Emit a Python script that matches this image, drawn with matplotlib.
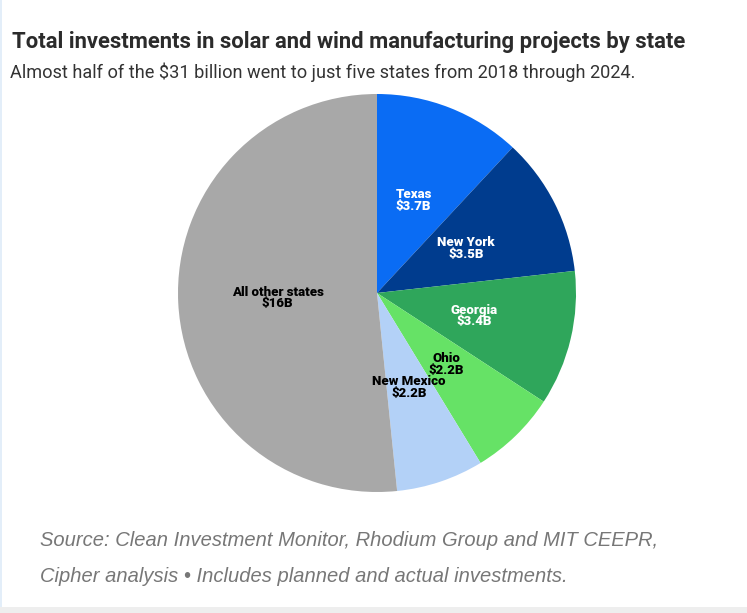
import matplotlib
matplotlib.use("Agg")
import matplotlib.pyplot as plt
import numpy as np

# data (billions of dollars)
states = ["Texas", "New York", "Georgia", "Ohio", "New Mexico", "All other states"]
values = [3.7, 3.5, 3.4, 2.2, 2.2, 16]
value_labels = ["$3.7B", "$3.5B", "$3.4B", "$2.2B", "$2.2B", "$16B"]
colors = ["#0a6cf4", "#003c8e", "#2fa65b", "#66e266", "#b3d1f7", "#a8a8a8"]
text_colors = ["white", "white", "white", "black", "black", "black"]

fig = plt.figure(figsize=(7.47, 6.13), dpi=100)
fig.patch.set_facecolor("white")

# thin page border on the left and grey band at the bottom, as in the screenshot
fig.add_artist(plt.Rectangle((0, 0), 2 / 747, 1, transform=fig.transFigure,
                             color="#e3eef9", lw=0))
fig.add_artist(plt.Rectangle((0, 0), 1, 6 / 613, transform=fig.transFigure,
                             color="#eeeeee", lw=0))

# pie axes, placed so the circle sits where it does in the reference
ax = fig.add_axes([(377 - 199) / 747, (613 - 492) / 613, 398 / 747, 398 / 613])
wedges, _ = ax.pie(values, colors=colors, startangle=90, counterclock=False,
                   radius=1, wedgeprops=dict(linewidth=0))
ax.set_xlim(-1, 1)
ax.set_ylim(-1, 1)
ax.set_aspect("equal")
ax.axis("off")

# labels inside slices, at half the radius
total = sum(values)
start = 90.0
for name, lab, v, tc in zip(states, value_labels, values, text_colors):
    mid = start - v / total * 360 / 2
    start -= v / total * 360
    x = 0.5 * np.cos(np.radians(mid))
    y = 0.5 * np.sin(np.radians(mid))
    ax.text(x, y, name + "\n" + lab, ha="center", va="center", color=tc,
            fontsize=9.5, fontweight="black", family="Roboto",
            linespacing=0.85)

# titles
fig.text(12 / 747, 1 - 42 / 613, "Total investments in solar and wind manufacturing projects by state",
         fontsize=15.8, fontweight="bold", color="#2b2b2b", va="center", ha="left",
         family="Roboto")
fig.text(10 / 747, 1 - 72 / 613, "Almost half of the $31 billion went to just five states from 2018 through 2024.",
         fontsize=13.1, color="#333333", va="center", ha="left", family="Roboto")

# source note
fig.text(40 / 747, 1 - 541 / 613, "Source: Clean Investment Monitor, Rhodium Group and MIT CEEPR,",
         fontsize=14.5, style="italic", color="#777777", va="center", ha="left",
         family="Liberation Sans")
fig.text(40 / 747, 1 - 576 / 613, "Cipher analysis \u2022 Includes planned and actual investments.",
         fontsize=14.5, style="italic", color="#777777", va="center", ha="left",
         family="Liberation Sans")

fig.savefig("out.png", dpi=100)
